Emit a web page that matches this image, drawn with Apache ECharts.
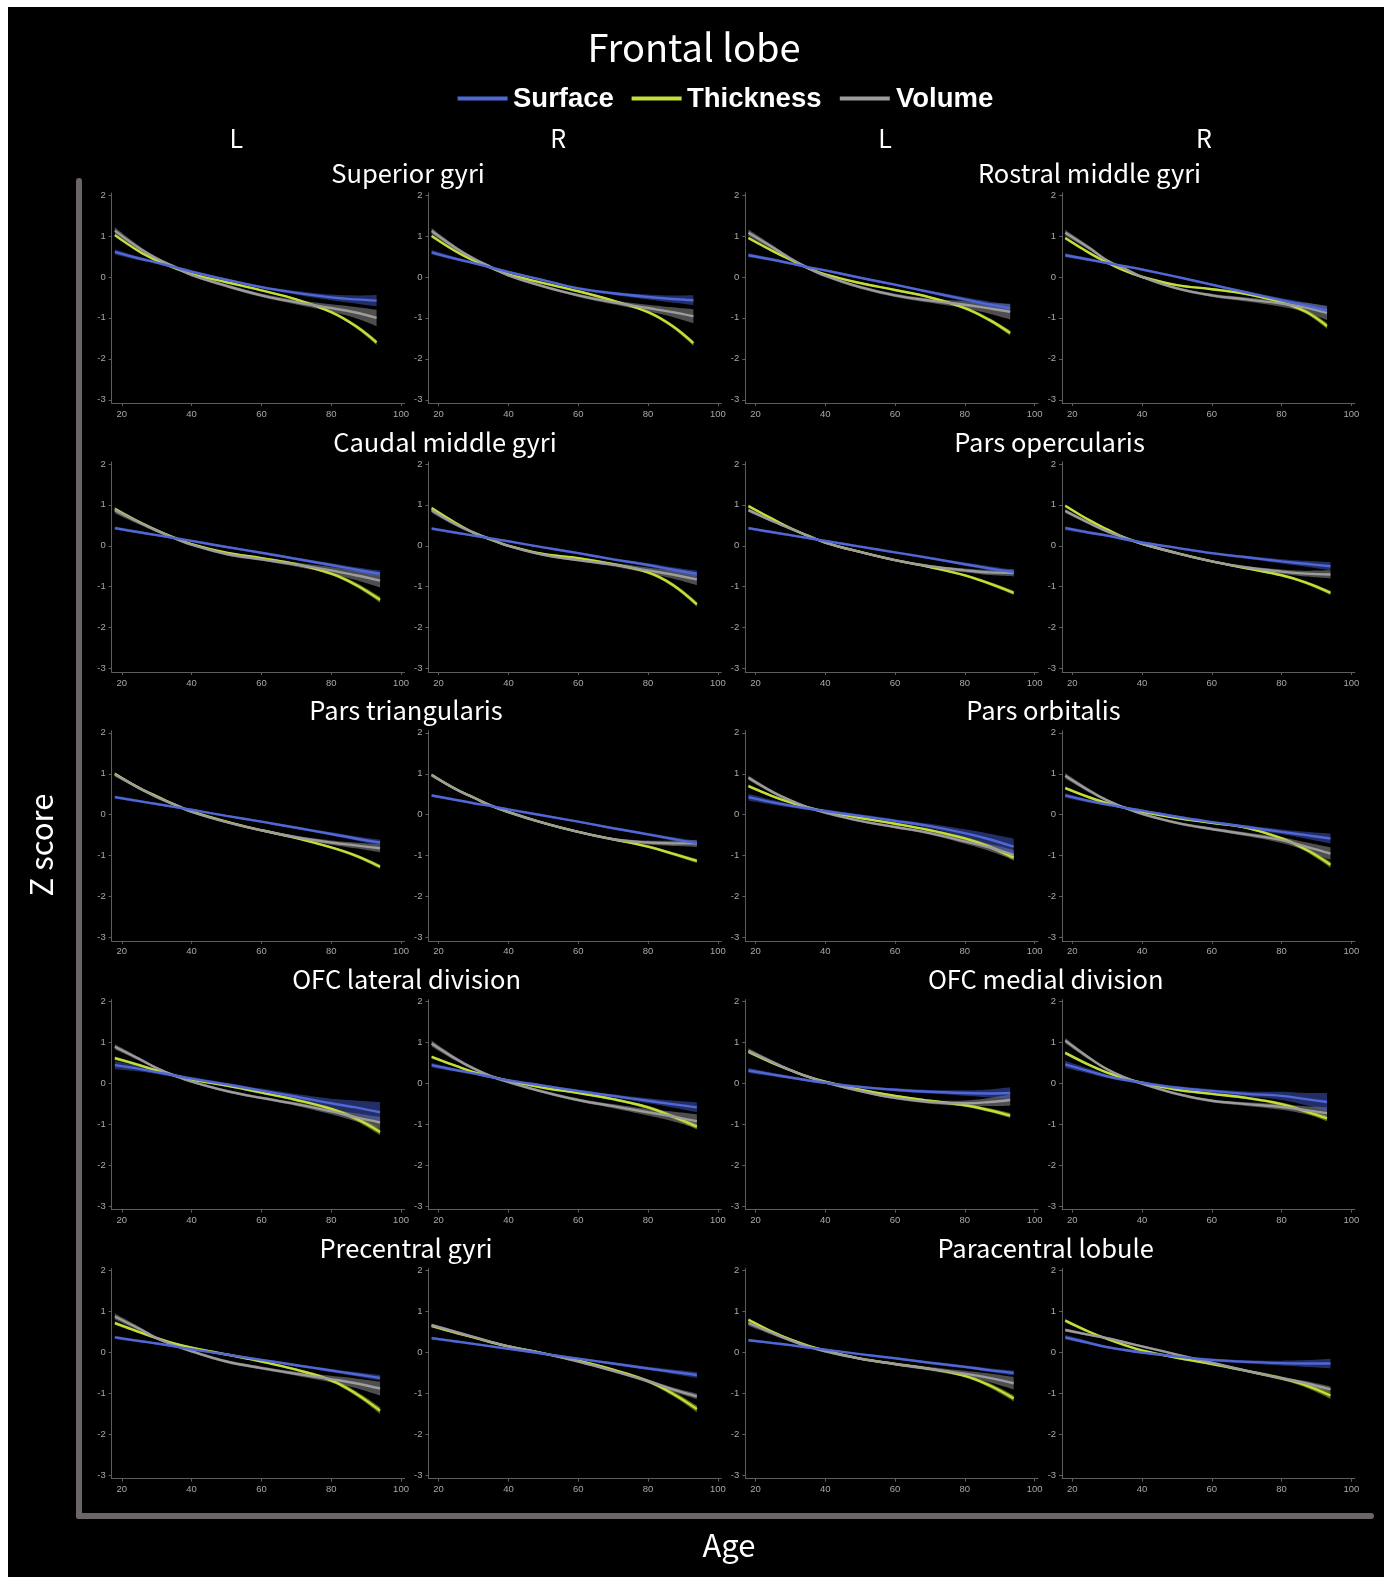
<!DOCTYPE html>
<html><head><meta charset="utf-8">
<script src="https://cdn.jsdelivr.net/npm/echarts@6/dist/echarts.min.js"></script>
<style>html,body{margin:0;padding:0;background:#fff}#c{width:1391px;height:1577px}</style>
</head><body><div id="c"></div>
<script>
// ---------- DATA ----------
const PANEL_TITLES = ["Superior gyri", "Caudal middle gyri", "Pars triangularis", "OFC lateral division", "Precentral gyri",
                      "Rostral middle gyri", "Pars opercularis", "Pars orbitalis", "OFC medial division", "Paracentral lobule"];
const SIDES = ["L", "R", "L", "R"];
const SERIES_NAMES = ["Surface", "Thickness", "Volume"];
const X_TICKS = [20, 40, 60, 80, 100];
const Y_TICKS = [-3, -2, -1, 0, 1, 2];
const AGES = [18, 25, 30, 35, 40, 50, 60, 70, 80, 87];
// last fitted age of each panel (row-major, 4 panels per row)
const LAST_AGE = [93, 93, 93, 93, 94, 94, 94, 94, 94, 94, 94, 94, 94, 94, 93, 93, 94, 94, 94, 94];

const SURFACE = [
  [0.61,0.45,0.35,0.24,0.13,-0.07,-0.25,-0.39,-0.50,-0.55,-0.58],
  [0.60,0.44,0.34,0.23,0.12,-0.08,-0.28,-0.40,-0.49,-0.54,-0.57],
  [0.53,0.42,0.33,0.24,0.16,-0.02,-0.19,-0.37,-0.55,-0.67,-0.77],
  [0.53,0.42,0.34,0.26,0.18,0.00,-0.19,-0.38,-0.57,-0.70,-0.82],
  [0.43,0.33,0.26,0.19,0.12,-0.03,-0.17,-0.32,-0.47,-0.58,-0.68],
  [0.42,0.32,0.25,0.18,0.11,-0.04,-0.18,-0.33,-0.47,-0.58,-0.68],
  [0.43,0.33,0.26,0.19,0.12,-0.02,-0.16,-0.30,-0.45,-0.55,-0.65],
  [0.43,0.32,0.25,0.16,0.08,-0.05,-0.18,-0.28,-0.38,-0.44,-0.50],
  [0.43,0.33,0.26,0.19,0.12,-0.03,-0.17,-0.32,-0.47,-0.58,-0.68],
  [0.47,0.36,0.28,0.21,0.13,-0.02,-0.17,-0.33,-0.48,-0.59,-0.70],
  [0.43,0.30,0.22,0.15,0.09,-0.03,-0.15,-0.28,-0.45,-0.60,-0.78],
  [0.47,0.33,0.25,0.17,0.10,-0.05,-0.18,-0.30,-0.42,-0.50,-0.58],
  [0.45,0.36,0.28,0.20,0.12,-0.02,-0.17,-0.32,-0.48,-0.58,-0.70],
  [0.45,0.33,0.25,0.16,0.08,-0.05,-0.18,-0.30,-0.42,-0.50,-0.58],
  [0.32,0.22,0.15,0.08,0.02,-0.08,-0.15,-0.20,-0.23,-0.24,-0.23],
  [0.47,0.30,0.18,0.09,0.02,-0.10,-0.18,-0.25,-0.30,-0.38,-0.45],
  [0.37,0.28,0.22,0.15,0.08,-0.05,-0.18,-0.31,-0.44,-0.53,-0.62],
  [0.35,0.27,0.21,0.15,0.09,-0.03,-0.15,-0.27,-0.39,-0.47,-0.55],
  [0.30,0.23,0.18,0.12,0.07,-0.04,-0.14,-0.25,-0.35,-0.43,-0.50],
  [0.37,0.23,0.13,0.06,0.00,-0.10,-0.18,-0.23,-0.26,-0.27,-0.27]
];
const THICKNESS = [
  [1.02,0.62,0.40,0.22,0.07,-0.13,-0.33,-0.55,-0.86,-1.20,-1.60],
  [1.00,0.62,0.40,0.22,0.06,-0.15,-0.35,-0.58,-0.86,-1.20,-1.62],
  [0.95,0.63,0.42,0.22,0.06,-0.15,-0.32,-0.50,-0.76,-1.05,-1.37],
  [0.95,0.58,0.35,0.15,0.00,-0.20,-0.30,-0.42,-0.62,-0.85,-1.20],
  [0.90,0.58,0.38,0.20,0.04,-0.17,-0.30,-0.45,-0.68,-0.95,-1.32],
  [0.92,0.55,0.32,0.15,0.00,-0.20,-0.30,-0.45,-0.65,-0.95,-1.43],
  [0.97,0.65,0.43,0.25,0.08,-0.15,-0.35,-0.52,-0.72,-0.92,-1.15],
  [0.98,0.62,0.40,0.20,0.05,-0.18,-0.38,-0.55,-0.72,-0.90,-1.15],
  [1.00,0.65,0.45,0.25,0.08,-0.17,-0.38,-0.57,-0.80,-1.00,-1.27],
  [0.97,0.62,0.42,0.22,0.07,-0.20,-0.42,-0.60,-0.78,-0.95,-1.13],
  [0.70,0.45,0.30,0.18,0.08,-0.08,-0.22,-0.38,-0.58,-0.78,-1.05],
  [0.65,0.42,0.28,0.17,0.07,-0.08,-0.20,-0.32,-0.58,-0.85,-1.22],
  [0.62,0.45,0.32,0.20,0.10,-0.05,-0.22,-0.40,-0.62,-0.85,-1.18],
  [0.65,0.43,0.28,0.17,0.07,-0.10,-0.23,-0.38,-0.58,-0.80,-1.05],
  [0.78,0.50,0.33,0.17,0.05,-0.15,-0.30,-0.42,-0.53,-0.65,-0.78],
  [0.75,0.45,0.27,0.13,0.02,-0.15,-0.25,-0.35,-0.50,-0.68,-0.85],
  [0.72,0.50,0.35,0.22,0.12,-0.05,-0.22,-0.42,-0.68,-1.00,-1.42],
  [0.65,0.48,0.37,0.25,0.15,-0.02,-0.20,-0.42,-0.70,-1.00,-1.38],
  [0.80,0.50,0.32,0.17,0.05,-0.15,-0.28,-0.40,-0.57,-0.80,-1.12],
  [0.78,0.50,0.33,0.18,0.05,-0.13,-0.28,-0.45,-0.63,-0.80,-1.05]
];
const VOLUME = [
  [1.13,0.70,0.45,0.25,0.05,-0.22,-0.45,-0.62,-0.76,-0.87,-1.00],
  [1.12,0.70,0.45,0.24,0.04,-0.23,-0.45,-0.62,-0.76,-0.86,-0.96],
  [1.08,0.72,0.45,0.22,0.03,-0.25,-0.45,-0.58,-0.68,-0.77,-0.85],
  [1.08,0.70,0.40,0.20,0.00,-0.28,-0.45,-0.55,-0.65,-0.75,-0.88],
  [0.87,0.57,0.37,0.19,0.03,-0.20,-0.33,-0.46,-0.60,-0.72,-0.85],
  [0.87,0.52,0.32,0.16,0.00,-0.22,-0.35,-0.46,-0.60,-0.70,-0.82],
  [0.87,0.60,0.42,0.25,0.08,-0.15,-0.35,-0.50,-0.60,-0.65,-0.66],
  [0.85,0.55,0.35,0.20,0.05,-0.18,-0.38,-0.53,-0.63,-0.68,-0.70],
  [0.98,0.65,0.43,0.25,0.07,-0.18,-0.38,-0.55,-0.68,-0.75,-0.82],
  [0.97,0.62,0.42,0.22,0.06,-0.20,-0.42,-0.60,-0.68,-0.70,-0.70],
  [0.90,0.55,0.35,0.18,0.05,-0.15,-0.30,-0.45,-0.65,-0.80,-0.98],
  [0.95,0.58,0.35,0.17,0.02,-0.20,-0.35,-0.48,-0.62,-0.78,-0.95],
  [0.90,0.60,0.38,0.20,0.05,-0.18,-0.35,-0.50,-0.68,-0.82,-0.95],
  [0.98,0.60,0.37,0.18,0.04,-0.20,-0.40,-0.55,-0.70,-0.80,-0.92],
  [0.80,0.52,0.33,0.17,0.03,-0.18,-0.35,-0.45,-0.48,-0.45,-0.40],
  [1.05,0.62,0.35,0.15,0.00,-0.25,-0.42,-0.50,-0.57,-0.65,-0.72],
  [0.88,0.58,0.35,0.18,0.03,-0.22,-0.38,-0.52,-0.65,-0.75,-0.88],
  [0.67,0.50,0.38,0.26,0.15,-0.02,-0.22,-0.45,-0.70,-0.90,-1.07],
  [0.72,0.47,0.30,0.15,0.03,-0.15,-0.28,-0.40,-0.52,-0.62,-0.75],
  [0.55,0.43,0.35,0.25,0.15,-0.05,-0.25,-0.45,-0.63,-0.75,-0.90]
];
// half-width of each confidence ribbon at the last age
const BAND_SURFACE   = [0.12,0.10,0.08,0.08,0.06,0.06,0.05,0.08,0.05,0.04,0.18,0.10,0.23,0.10,0.12,0.20,0.05,0.05,0.04,0.10];
const BAND_THICKNESS = [0.04,0.04,0.04,0.05,0.05,0.04,0.03,0.03,0.03,0.03,0.05,0.05,0.06,0.05,0.04,0.05,0.06,0.06,0.05,0.06];
const BAND_VOLUME    = [0.18,0.15,0.17,0.15,0.15,0.12,0.07,0.08,0.08,0.07,0.10,0.13,0.12,0.15,0.12,0.12,0.15,0.05,0.13,0.05];
// relative ribbon width along the age points (wide at the extremes, narrow mid-life)
const BAND_SHAPE = [0.35,0.2,0.12,0.1,0.1,0.1,0.12,0.2,0.4,0.65,1];

// ---------- STYLE ----------
const COLORS = {
  Surface:   {line: '#4f68d6', band: 'rgba(70,92,205,0.5)'},
  Thickness: {line: '#c3de38', band: 'rgba(185,210,45,0.5)'},
  Volume:    {line: '#9c9c9c', band: 'rgba(130,130,130,0.6)'}
};
const AX = '#5e5e5e', LBL = '#a8a8a8';
const SMOOTH = 0.4;

// smooth path through screen points (rendering helper for the ribbons)
function curveTo(pts) {
  let d = '';
  const n = pts.length;
  const cp = (i, dir) => {
    const cur = pts[i];
    if (i === 0 || i === n - 1) return cur;
    const prev = pts[i - 1], next = pts[i + 1];
    const vx = next[0] - prev[0], vy = next[1] - prev[1];
    const dp = Math.hypot(cur[0] - prev[0], cur[1] - prev[1]);
    const dn = Math.hypot(next[0] - cur[0], next[1] - cur[1]);
    const rn = dn / (dp + dn);
    return dir > 0 ? [cur[0] + vx * SMOOTH * rn, cur[1] + vy * SMOOTH * rn]
                   : [cur[0] - vx * SMOOTH * (1 - rn), cur[1] - vy * SMOOTH * (1 - rn)];
  };
  for (let i = 0; i < n - 1; i++) {
    const c1 = cp(i, 1), c2 = cp(i + 1, -1), p = pts[i + 1];
    d += ' C' + c1[0] + ',' + c1[1] + ' ' + c2[0] + ',' + c2[1] + ' ' + p[0] + ',' + p[1];
  }
  return d;
}

const chart = echarts.init(document.getElementById('c'), null, {renderer: 'canvas'});
const grids = [], xAxes = [], yAxes = [], series = [];
const X0 = 111.7, DX = 316.8, Y0 = 195, DY = 268.9;
const XMIN = 17.1, XMAX = 101, YMIN = -3.08, YMAX = 2.05;
const PX_X = 3.49, PX_Y = 40.95;
const TICK_FONT = '"Liberation Sans Narrow", "Liberation Sans", sans-serif';

for (let p = 0; p < 20; p++) {
  const r = Math.floor(p / 4), c = p % 4;
  const left = X0 + DX * c, y2 = Y0 + DY * r;
  grids.push({left: left, top: y2 - (YMAX - 2) * PX_Y, width: (XMAX - XMIN) * PX_X, height: (YMAX - YMIN) * PX_Y});
  xAxes.push({
    type: 'value', gridIndex: p, min: XMIN, max: XMAX,
    axisLine: {show: true, onZero: false, lineStyle: {color: AX, width: 1}},
    axisTick: {show: true, length: 3, customValues: X_TICKS, lineStyle: {color: AX}},
    axisLabel: {customValues: X_TICKS, color: LBL, fontSize: 9.5, margin: 6, fontFamily: TICK_FONT},
    splitLine: {show: false}
  });
  yAxes.push({
    type: 'value', gridIndex: p, min: YMIN, max: YMAX,
    axisLine: {show: true, onZero: false, lineStyle: {color: AX, width: 1}},
    axisTick: {show: true, length: 3, customValues: Y_TICKS, lineStyle: {color: AX}},
    axisLabel: {customValues: Y_TICKS, color: LBL, fontSize: 9.5, margin: 6, fontFamily: TICK_FONT},
    splitLine: {show: false}
  });
  const ages = AGES.concat([LAST_AGE[p]]);
  const sets = [
    ['Thickness', THICKNESS[p], BAND_THICKNESS[p]],
    ['Volume', VOLUME[p], BAND_VOLUME[p]],
    ['Surface', SURFACE[p], BAND_SURFACE[p]]
  ];
  // confidence ribbons
  sets.forEach(([name, vals, bw]) => {
    const rows = ages.map((a, i) => {
      const hw = 0.02 + bw * BAND_SHAPE[i];
      return [a, vals[i] - hw, vals[i] + hw];
    });
    const color = COLORS[name].band;
    series.push({
      type: 'custom', xAxisIndex: p, yAxisIndex: p, silent: true, z: 1,
      encode: {x: 0, y: [1, 2]},
      data: rows,
      renderItem: function (params, api) {
        if (params.dataIndex !== 0) return null;
        const up = rows.map(rw => api.coord([rw[0], rw[2]]));
        const lo = rows.map(rw => api.coord([rw[0], rw[1]])).reverse();
        const d = 'M' + up[0][0] + ',' + up[0][1] + curveTo(up) +
                  ' L' + lo[0][0] + ',' + lo[0][1] + curveTo(lo) + ' Z';
        return {type: 'path', shape: {pathData: d}, style: {fill: color}};
      }
    });
  });
  // fitted lines
  sets.forEach(([name, vals]) => {
    series.push({
      name: name, type: 'line', xAxisIndex: p, yAxisIndex: p,
      data: ages.map((a, i) => [a, vals[i]]), smooth: SMOOTH, symbol: 'none',
      lineStyle: {color: COLORS[name].line, width: 2.4}, silent: true, z: 3
    });
  });
}

// ---------- TEXT / DECORATION ----------
const TITLE_FONT = '"Noto Sans CJK JP", "Noto Sans", sans-serif';
function txt(text, x, y, size, opts) {
  opts = opts || {};
  return {
    type: 'text', x: x, y: y, rotation: opts.rotation || 0, z: 10,
    style: {
      text: text, fill: '#ffffff',
      font: (opts.weight || 'normal') + ' ' + size + 'px ' + (opts.family || TITLE_FONT),
      textAlign: opts.align || 'center', textVerticalAlign: 'middle',
      align: opts.align || 'center', verticalAlign: 'middle'
    }
  };
}
const elements = [
  {type: 'rect', shape: {x: 0, y: 0, width: 1391, height: 7}, style: {fill: '#fff'}, z: 20},
  {type: 'rect', shape: {x: 0, y: 0, width: 8, height: 1577}, style: {fill: '#fff'}, z: 20},
  {type: 'rect', shape: {x: 1384, y: 0, width: 7, height: 1577}, style: {fill: '#fff'}, z: 20},
  {type: 'line', shape: {x1: 79, y1: 181, x2: 79, y2: 1516}, style: {stroke: '#6b6566', lineWidth: 6, lineCap: 'round'}, z: 5},
  {type: 'line', shape: {x1: 79, y1: 1516, x2: 1371, y2: 1516}, style: {stroke: '#6b6566', lineWidth: 6, lineCap: 'round'}, z: 5},
  txt('Frontal lobe', 694, 48, 38),
  txt('Z score', 41, 845, 31, {rotation: Math.PI / 2}),
  txt('Age', 729, 1545, 31)
];
// legend
const LEGEND_POS = [[457.6, 513], [631.6, 687], [839.8, 896]];
const LEGEND_Y = 99.5;
SERIES_NAMES.forEach((n, i) => {
  const [lx, tx] = LEGEND_POS[i];
  elements.push({type: 'line', shape: {x1: lx, y1: LEGEND_Y - 1, x2: lx + 50, y2: LEGEND_Y - 1}, style: {stroke: COLORS[n].line, lineWidth: 4}, z: 10});
  elements.push(txt(n, tx, LEGEND_Y, 27.5, {weight: 'bold', align: 'left', family: '"Liberation Sans", Arial, sans-serif'}));
});
// L / R headers
const SIDE_X = [236.4, 558.2, 885.1, 1204];
SIDES.forEach((s, i) => elements.push(txt(s, SIDE_X[i], 138.5, 25)));
// panel titles
const TITLE_X_LEFT = [408, 445, 406, 406.6, 406];
const TITLE_X_RIGHT = [1089.5, 1049.5, 1043.5, 1045.7, 1045.6];
for (let r = 0; r < 5; r++) {
  const ty = 173 + DY * r;
  elements.push(txt(PANEL_TITLES[r], TITLE_X_LEFT[r], ty, 25.5));
  elements.push(txt(PANEL_TITLES[5 + r], TITLE_X_RIGHT[r], ty, 25.5));
}

chart.setOption({
  backgroundColor: '#000000',
  animation: false,
  grid: grids, xAxis: xAxes, yAxis: yAxes, series: series,
  graphic: {elements: elements}
});
</script>
</body></html>
